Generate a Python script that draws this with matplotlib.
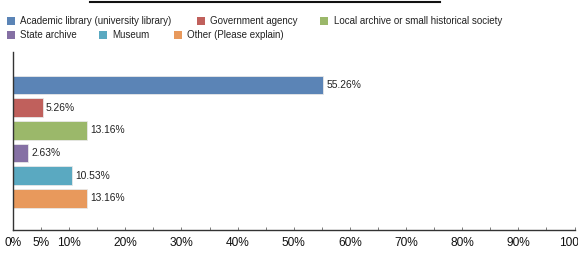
import matplotlib
matplotlib.use("Agg")
import matplotlib.pyplot as plt
from matplotlib.patches import Rectangle
from matplotlib.lines import Line2D

categories = ["Academic library (university library)", "Government agency",
              "Local archive or small historical society", "State archive",
              "Museum", "Other (Please explain)"]
values = [55.26, 5.26, 13.16, 2.63, 10.53, 13.16]
colors = ["#5b84b6", "#c0605c", "#9bb86a", "#8570a4", "#5aa9c1", "#e8995c"]
tick_values = [0, 5, 10, 20, 30, 40, 50, 60, 70, 80, 90, 100]
tick_labels = ["0%", "5%", "10%", "20%", "30%", "40%", "50%", "60%", "70%", "80%", "90%", "100%"]

plt.rcParams['font.family'] = ['Liberation Sans', 'DejaVu Sans']

W, H = 578, 276
fig = plt.figure(figsize=(W / 100, H / 100), dpi=100)
ax = fig.add_axes([13 / W, 1 - 230 / H, (574.5 - 13) / W, (230 - 52) / H])

ypos = list(range(len(values)))
ax.barh(ypos, values, height=0.82, color=colors, edgecolor="#e8e8e8", linewidth=0.6)
for y, v in zip(ypos, values):
    ax.annotate(f"{v:.2f}%", (v, y), xytext=(2.5, 0), textcoords="offset points",
                va="center", ha="left", fontsize=7.4, color="#222222")

ax.set_xlim(0, 100)
ax.set_ylim(5 + 1.4, -1.45)
ax.set_yticks([])
ax.set_xticks(list(range(0, 101, 5)), minor=False)
ax.set_xticklabels([tick_labels[tick_values.index(t)] if t in tick_values else "" for t in range(0, 101, 5)],
                   fontsize=8.6)
ax.tick_params(axis="x", direction="in", length=2, width=0.6, color="#666666", pad=5, labelcolor="#111111")
for s in ["top", "right"]:
    ax.spines[s].set_visible(False)
ax.spines["left"].set_color("#333333")
ax.spines["bottom"].set_color("#333333")
ax.spines["left"].set_linewidth(1.0)
ax.spines["bottom"].set_linewidth(1.0)

# title underline (title cut off at top)
fig.add_artist(Line2D([90 / W, 440 / W], [1 - 2 / H, 1 - 2 / H], color="#111111", linewidth=1.5))

# legend (flow layout)
leg_items = [
    (0, 7, 20.5), (1, 197, 20.5), (2, 320, 20.5),
    (3, 7, 34.5), (4, 99, 34.5), (5, 174, 34.5),
]
for idx, px, py in leg_items:
    fig.add_artist(Rectangle((px / W, 1 - (py + 4) / H), 8 / W, 8 / H,
                             facecolor=colors[idx], edgecolor="none", transform=fig.transFigure))
    fig.text((px + 13.5) / W, 1 - py / H, categories[idx], fontsize=7, va="center", ha="left", color="#222222")

fig.savefig("out.png", dpi=100)
